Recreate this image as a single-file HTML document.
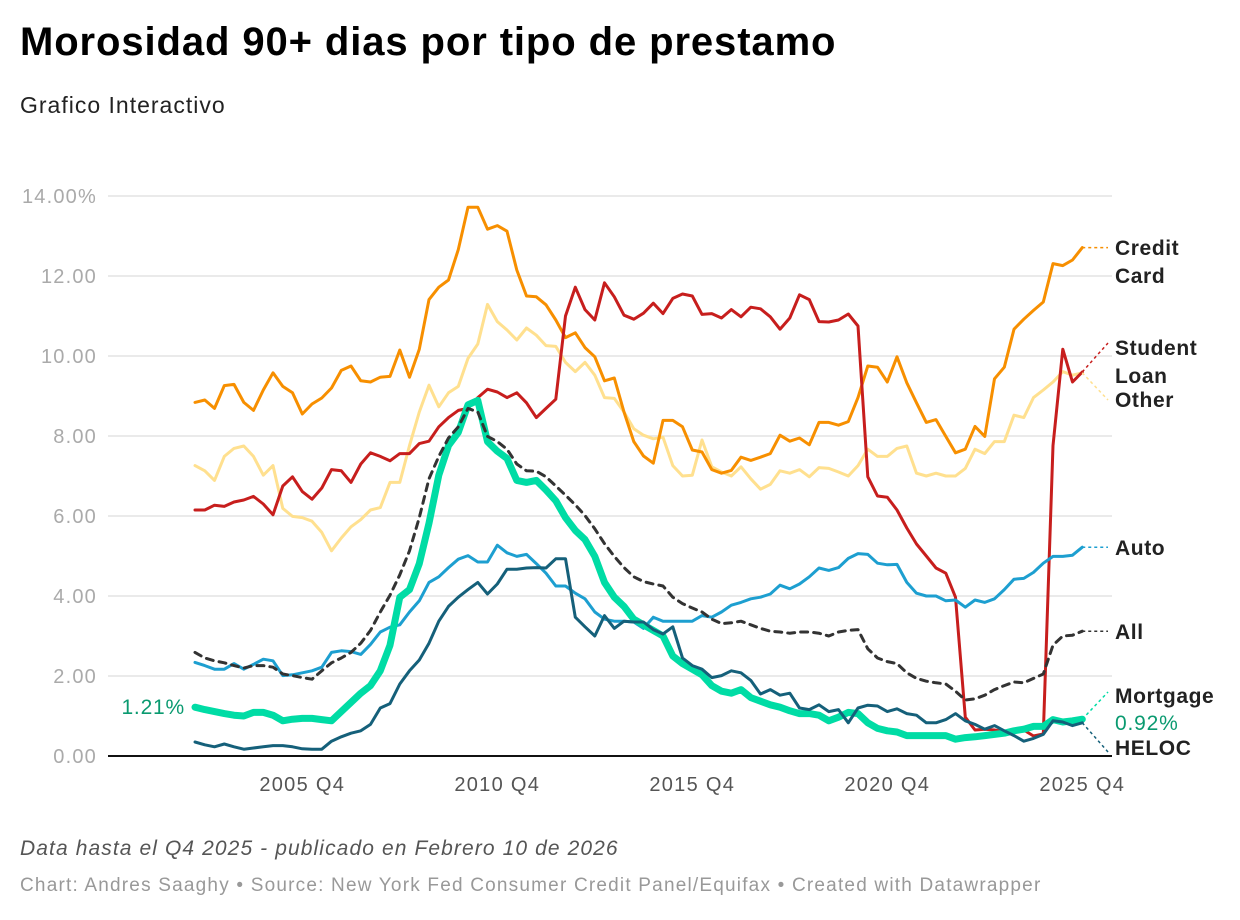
<!DOCTYPE html>
<html><head><meta charset="utf-8">
<style>
body{margin:0;background:#fff;font-family:"Liberation Sans",sans-serif;}
#wrap{position:relative;width:1240px;height:920px;overflow:hidden;}
h1{position:absolute;left:20px;top:20px;margin:0;font-size:40px;letter-spacing:0.9px;font-weight:bold;color:#000;}
.sub{position:absolute;left:20px;top:92px;font-size:23px;letter-spacing:1px;color:#222;}
.note{position:absolute;left:20px;top:837px;font-size:21px;letter-spacing:1.1px;font-style:italic;color:#555;}
.src{position:absolute;left:20px;top:875px;font-size:19px;letter-spacing:1.2px;color:#999;}
svg{position:absolute;left:0;top:0;}
</style></head><body>
<div id="wrap">
<h1>Morosidad 90+ dias por tipo de prestamo</h1>
<div class="sub">Grafico Interactivo</div>
<svg id="chart" width="1240" height="920"></svg>
<div class="note">Data hasta el Q4 2025 - publicado en Febrero 10 de 2026</div>
<div class="src">Chart: Andres Saaghy • Source: New York Fed Consumer Credit Panel/Equifax • Created with Datawrapper</div>
</div>
<script>
const yTicks=[0,2,4,6,8,10,12,14];
const xTickLabels=["2005 Q4","2010 Q4","2015 Q4","2020 Q4","2025 Q4"];
const xTickIndex=[11,31,51,71,91];
const creditCard=[8.84,8.9,8.69,9.26,9.29,8.84,8.64,9.15,9.58,9.24,9.08,8.55,8.8,8.95,9.2,9.64,9.75,9.38,9.35,9.47,9.49,10.15,9.47,10.17,11.41,11.72,11.9,12.66,13.72,13.72,13.17,13.26,13.12,12.15,11.5,11.48,11.28,10.9,10.46,10.58,10.21,9.98,9.38,9.45,8.6,7.86,7.5,7.32,8.39,8.39,8.23,7.65,7.6,7.16,7.07,7.14,7.47,7.39,7.47,7.56,8.02,7.87,7.95,7.78,8.34,8.34,8.27,8.36,8.96,9.75,9.72,9.35,9.98,9.33,8.83,8.34,8.41,7.99,7.58,7.67,8.24,7.99,9.43,9.72,10.67,10.92,11.14,11.35,12.31,12.26,12.4,12.71];
const studentLoan=[6.15,6.15,6.27,6.24,6.35,6.4,6.49,6.3,6.03,6.75,6.98,6.61,6.42,6.7,7.16,7.13,6.84,7.3,7.58,7.49,7.38,7.56,7.56,7.81,7.87,8.23,8.46,8.64,8.69,8.96,9.17,9.1,8.96,9.08,8.83,8.46,8.69,8.92,11.0,11.72,11.16,10.9,11.83,11.48,11.02,10.92,11.07,11.32,11.06,11.44,11.55,11.5,11.04,11.06,10.95,11.16,10.98,11.22,11.18,10.98,10.67,10.95,11.53,11.41,10.86,10.85,10.9,11.05,10.75,6.98,6.5,6.47,6.15,5.7,5.3,5.0,4.7,4.57,3.97,0.97,0.65,0.67,0.65,0.6,0.6,0.65,0.5,0.55,7.76,10.17,9.35,9.6];
const other=[7.26,7.13,6.89,7.49,7.69,7.75,7.49,7.02,7.26,6.19,5.99,5.96,5.87,5.59,5.13,5.45,5.73,5.91,6.15,6.21,6.84,6.84,7.76,8.6,9.27,8.73,9.08,9.24,9.94,10.3,11.29,10.86,10.65,10.4,10.7,10.52,10.26,10.24,9.84,9.61,9.84,9.52,8.96,8.94,8.6,8.18,8.02,7.93,7.97,7.26,7.0,7.02,7.9,7.23,7.1,7.0,7.23,6.93,6.67,6.79,7.13,7.07,7.16,6.98,7.21,7.19,7.1,7.0,7.26,7.67,7.49,7.49,7.69,7.75,7.07,7.0,7.07,7.0,7.0,7.19,7.67,7.56,7.86,7.86,8.52,8.46,8.96,9.15,9.35,9.61,9.52,9.58];
const auto=[2.34,2.26,2.17,2.17,2.31,2.17,2.29,2.42,2.38,2.01,2.03,2.08,2.13,2.22,2.59,2.63,2.61,2.54,2.79,3.1,3.22,3.28,3.6,3.88,4.34,4.48,4.71,4.92,5.01,4.85,4.85,5.27,5.08,4.99,5.04,4.81,4.57,4.25,4.25,4.07,3.93,3.6,3.42,3.37,3.37,3.35,3.19,3.47,3.37,3.37,3.37,3.37,3.51,3.47,3.6,3.77,3.84,3.93,3.97,4.05,4.27,4.18,4.3,4.48,4.7,4.64,4.71,4.94,5.06,5.04,4.82,4.78,4.79,4.34,4.07,4.0,4.0,3.88,3.9,3.72,3.9,3.84,3.93,4.16,4.42,4.44,4.59,4.82,4.99,4.99,5.02,5.22];
const all=[2.59,2.45,2.38,2.33,2.26,2.2,2.26,2.26,2.22,2.05,2.01,1.96,1.92,2.13,2.33,2.45,2.59,2.82,3.14,3.6,4.02,4.53,5.13,5.96,6.93,7.49,7.95,8.23,8.69,8.6,7.99,7.86,7.67,7.3,7.13,7.12,6.98,6.75,6.52,6.28,6.01,5.68,5.31,4.99,4.71,4.48,4.36,4.3,4.25,3.97,3.81,3.7,3.6,3.42,3.31,3.33,3.37,3.28,3.19,3.12,3.1,3.07,3.1,3.1,3.07,3.0,3.1,3.14,3.16,2.68,2.45,2.36,2.31,2.08,1.94,1.87,1.83,1.8,1.62,1.4,1.43,1.52,1.66,1.76,1.85,1.83,1.94,2.05,2.77,3.0,3.02,3.12];
const mortgage=[1.22,1.16,1.11,1.06,1.02,1.0,1.09,1.09,1.02,0.88,0.92,0.94,0.94,0.91,0.88,1.11,1.34,1.57,1.76,2.13,2.77,3.97,4.16,4.81,5.82,7.02,7.76,8.09,8.78,8.89,7.86,7.62,7.44,6.89,6.84,6.89,6.65,6.38,5.96,5.64,5.41,4.99,4.34,3.97,3.74,3.42,3.28,3.14,3.0,2.5,2.31,2.17,2.03,1.76,1.62,1.57,1.66,1.46,1.37,1.28,1.22,1.13,1.06,1.06,1.02,0.88,0.97,1.09,1.06,0.83,0.69,0.63,0.6,0.51,0.51,0.51,0.51,0.51,0.42,0.46,0.48,0.51,0.54,0.57,0.63,0.67,0.74,0.74,0.91,0.85,0.88,0.92];
const heloc=[0.35,0.28,0.23,0.3,0.23,0.17,0.2,0.23,0.26,0.26,0.23,0.18,0.17,0.17,0.37,0.48,0.57,0.63,0.79,1.2,1.31,1.8,2.13,2.4,2.82,3.37,3.74,3.97,4.16,4.34,4.05,4.3,4.67,4.67,4.7,4.71,4.7,4.93,4.93,3.47,3.23,3.0,3.51,3.19,3.37,3.35,3.35,3.16,3.05,3.23,2.45,2.26,2.17,1.96,2.01,2.13,2.08,1.89,1.55,1.66,1.52,1.57,1.2,1.16,1.28,1.11,1.16,0.83,1.2,1.27,1.25,1.11,1.18,1.06,1.02,0.83,0.83,0.91,1.06,0.88,0.79,0.67,0.76,0.63,0.51,0.37,0.44,0.54,0.88,0.85,0.76,0.83];

const NS='http://www.w3.org/2000/svg';
const svg=document.getElementById('chart');
const X0=195,XSTEP=9.75,Y0=756,YPX=40;
function xs(i){return X0+i*XSTEP;}
function ys(v){return Y0-v*YPX;}
function mk(tag,attrs,parent){const e=document.createElementNS(NS,tag);for(const k in attrs)e.setAttribute(k,attrs[k]);(parent||svg).appendChild(e);return e;}

yTicks.forEach(v=>{
  if(v>0){const g=mk('line',{x1:108,x2:1112,y1:ys(v),y2:ys(v),stroke:'#e3e3e3','stroke-width':1.5});
  
  }
  const t=mk('text',{x:97,y:ys(v)+7,'text-anchor':'end','font-size':20,'letter-spacing':1.2,fill:'#aaa'});
  t.textContent=v===14?'14.00%':v.toFixed(2);
  
  
});
const base=mk('line',{x1:108,x2:1112,y1:Y0,y2:Y0,stroke:'#111','stroke-width':2});


xTickLabels.forEach((l,k)=>{
  const t=mk('text',{x:xs(xTickIndex[k]),y:791,'text-anchor':'middle','font-size':20,'letter-spacing':1.3,fill:'#555'});
  t.textContent=l;
  
  
});
function line(arr,color,w,name,dash){
  const d=arr.map((v,i)=>(i?'L':'M')+xs(i).toFixed(1)+','+ys(v).toFixed(1)).join('');
  const p=mk('path',{d:d,fill:'none',stroke:color,'stroke-width':w,'stroke-linejoin':'round','stroke-linecap':'round'});
  if(dash)p.setAttribute('stroke-dasharray',dash);
  
  
}
line(other,'#ffe08f',3,'line-other');
line(creditCard,'#f78f00',3,'line-credit-card');
line(studentLoan,'#c71e1d',3,'line-student-loan');
line(auto,'#1d9fd0',3,'line-auto');
line(mortgage,'#00dca5',7,'line-mortgage');
line(heloc,'#15607a',3,'line-heloc');
line(all,'#333',3,'line-all','7,6');

const last=91,lx=xs(last);
function conn(v,ty,color,name){
  const c=mk('line',{x1:lx,y1:ys(v),x2:1108,y2:ty,stroke:color,'stroke-width':1.5,'stroke-dasharray':'3,3'});
  
  
}
conn(creditCard[last],ys(creditCard[last]),'#f78f00','connector-credit-card');
conn(studentLoan[last],343,'#c71e1d','connector-student-loan');
conn(other[last],400,'#ffe08f','connector-other');
conn(auto[last],ys(auto[last]),'#1d9fd0','connector-auto');
conn(all[last],ys(all[last]),'#333','connector-all');
conn(mortgage[last],692,'#00dca5','connector-mortgage');
conn(heloc[last],752,'#15607a','connector-heloc');

const labels=[["Credit",255,'#222','label-credit-card'],["Card",283,'#222','label-credit-card-2'],["Student",355,'#222','label-student-loan'],["Loan",383,'#222','label-student-loan-2'],["Other",407,'#222','label-other'],["Auto",555,'#222','label-auto'],["All",639,'#222','label-all'],["Mortgage",703,'#222','label-mortgage'],["HELOC",755,'#222','label-heloc']];
labels.forEach(l=>{
  const t=mk('text',{x:1115,y:l[1],'font-size':21,'letter-spacing':0.6,'font-weight':'bold',fill:l[2]});
  t.textContent=l[0];
  
  
});
const v1=mk('text',{x:1115,y:730,'font-size':21,'letter-spacing':0.8,fill:'#0a9a70'});
v1.textContent='0.92%';


const v0=mk('text',{x:185,y:714,'font-size':21,'letter-spacing':0.8,fill:'#0a9a70','text-anchor':'end'});
v0.textContent='1.21%';


</script>
</body></html>
